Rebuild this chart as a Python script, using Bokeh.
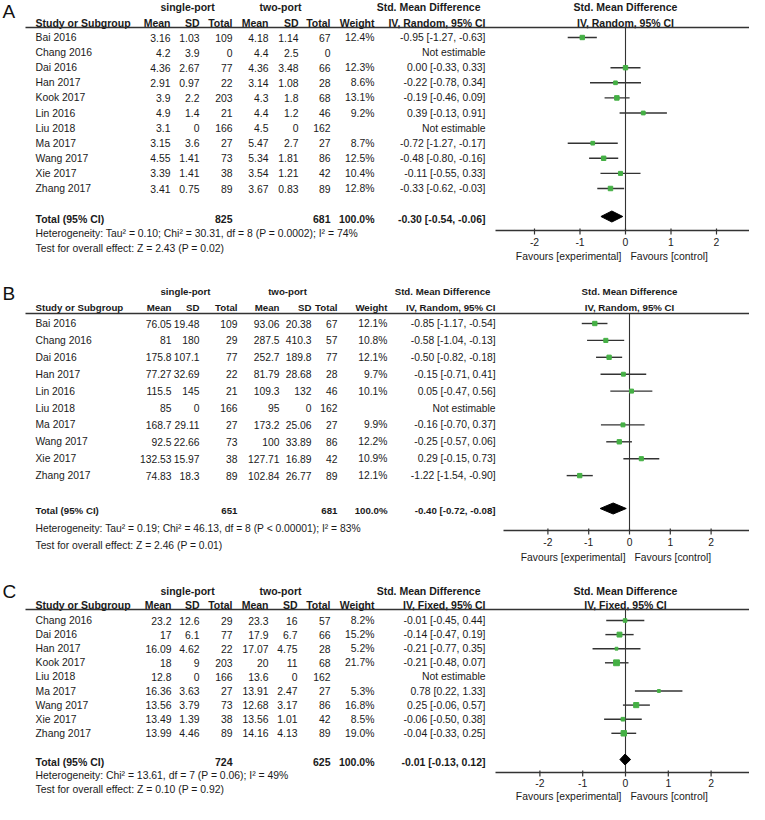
import math
from bokeh.plotting import figure
from bokeh.models import Range1d, ColumnDataSource
from bokeh.embed import file_html
from bokeh.resources import INLINE
from bokeh.core.properties import value

# ---------------- DATA ----------------
# Panel A
studies_a = ["Bai  2016", "Chang  2016", "Dai  2016", "Han  2017", "Kook  2017", "Lin 2016",
             "Liu  2018", "Ma  2017", "Wang  2017", "Xie  2017", "Zhang  2017"]
sp_mean_a = [3.16, 4.2, 4.36, 2.91, 3.9, 4.9, 3.1, 3.15, 4.55, 3.39, 3.41]
sp_sd_a = [1.03, 3.9, 2.67, 0.97, 2.2, 1.4, 0, 3.6, 1.41, 1.41, 0.75]
sp_n_a = [109, 0, 77, 22, 203, 21, 166, 27, 73, 38, 89]
tp_mean_a = [4.18, 4.4, 4.36, 3.14, 4.3, 4.4, 4.5, 5.47, 5.34, 3.54, 3.67]
tp_sd_a = [1.14, 2.5, 3.48, 1.08, 1.8, 1.2, 0, 2.7, 1.81, 1.21, 0.83]
tp_n_a = [67, 0, 66, 28, 68, 46, 162, 27, 86, 42, 89]
weight_a = [12.4, None, 12.3, 8.6, 13.1, 9.2, None, 8.7, 12.5, 10.4, 12.8]
smd_a = [-0.95, None, 0.00, -0.22, -0.19, 0.39, None, -0.72, -0.48, -0.11, -0.33]
lo_a = [-1.27, None, -0.33, -0.78, -0.46, -0.13, None, -1.27, -0.80, -0.55, -0.62]
hi_a = [-0.63, None, 0.33, 0.34, 0.09, 0.91, None, -0.17, -0.16, 0.33, -0.03]
total_n_a = [825, 681]
pooled_a = [-0.30, -0.54, -0.06]
method_a = "IV, Random, 95% CI"
het_a = "Heterogeneity: Tau\u00b2 = 0.10; Chi\u00b2 = 30.31, df = 8 (P = 0.0002); I\u00b2 = 74%"
test_a = "Test for overall effect: Z = 2.43 (P = 0.02)"

# Panel B
studies_b = ["Bai  2016", "Chang  2016", "Dai  2016", "Han  2017", "Lin 2016",
             "Liu  2018", "Ma  2017", "Wang  2017", "Xie  2017", "Zhang  2017"]
sp_mean_b = [76.05, 81, 175.8, 77.27, 115.5, 85, 168.7, 92.5, 132.53, 74.83]
sp_sd_b = [19.48, 180, 107.1, 32.69, 145, 0, 29.11, 22.66, 15.97, 18.3]
sp_n_b = [109, 29, 77, 22, 21, 166, 27, 73, 38, 89]
tp_mean_b = [93.06, 287.5, 252.7, 81.79, 109.3, 95, 173.2, 100, 127.71, 102.84]
tp_sd_b = [20.38, 410.3, 189.8, 28.68, 132, 0, 25.06, 33.89, 16.89, 26.77]
tp_n_b = [67, 57, 77, 28, 46, 162, 27, 86, 42, 89]
weight_b = [12.1, 10.8, 12.1, 9.7, 10.1, None, 9.9, 12.2, 10.9, 12.1]
smd_b = [-0.85, -0.58, -0.50, -0.15, 0.05, None, -0.16, -0.25, 0.29, -1.22]
lo_b = [-1.17, -1.04, -0.82, -0.71, -0.47, None, -0.70, -0.57, -0.15, -1.54]
hi_b = [-0.54, -0.13, -0.18, 0.41, 0.56, None, 0.37, 0.06, 0.73, -0.90]
total_n_b = [651, 681]
pooled_b = [-0.40, -0.72, -0.08]
method_b = "IV, Random, 95% CI"
het_b = "Heterogeneity: Tau\u00b2 = 0.19; Chi\u00b2 = 46.13, df = 8 (P < 0.00001); I\u00b2 = 83%"
test_b = "Test for overall effect: Z = 2.46 (P = 0.01)"

# Panel C
studies_c = ["Chang  2016", "Dai  2016", "Han  2017", "Kook  2017", "Liu  2018",
             "Ma  2017", "Wang  2017", "Xie  2017", "Zhang  2017"]
sp_mean_c = [23.2, 17, 16.09, 18, 12.8, 16.36, 13.56, 13.49, 13.99]
sp_sd_c = [12.6, 6.1, 4.62, 9, 0, 3.63, 3.79, 1.39, 4.46]
sp_n_c = [29, 77, 22, 203, 166, 27, 73, 38, 89]
tp_mean_c = [23.3, 17.9, 17.07, 20, 13.6, 13.91, 12.68, 13.56, 14.16]
tp_sd_c = [16, 6.7, 4.75, 11, 0, 2.47, 3.17, 1.01, 4.13]
tp_n_c = [57, 66, 28, 68, 162, 27, 86, 42, 89]
weight_c = [8.2, 15.2, 5.2, 21.7, None, 5.3, 16.8, 8.5, 19.0]
smd_c = [-0.01, -0.14, -0.21, -0.21, None, 0.78, 0.25, -0.06, -0.04]
lo_c = [-0.45, -0.47, -0.77, -0.48, None, 0.22, -0.06, -0.50, -0.33]
hi_c = [0.44, 0.19, 0.35, 0.07, None, 1.33, 0.57, 0.38, 0.25]
total_n_c = [724, 625]
pooled_c = [-0.01, -0.13, 0.12]
method_c = "IV, Fixed, 95% CI"
het_c = "Heterogeneity: Chi\u00b2 = 13.61, df = 7 (P = 0.06); I\u00b2 = 49%"
test_c = "Test for overall effect: Z = 0.10 (P = 0.92)"

group_labels = ["single-port", "two-port"]
col_labels = ["Mean", "SD", "Total", "Mean", "SD", "Total", "Weight"]
tick_values = [-2, -1, 0, 1, 2]
favours = ["Favours [experimental]", "Favours [control]"]

# ---------------- LAYOUT (pixel space) ----------------
FONT = "Liberation Sans"
TXT = "#1a1a1a"
LINE = "#333333"
GREEN = "#45b045"

W, H = 749, 804
p = figure(width=W, height=H, x_range=Range1d(0, W), y_range=Range1d(H, 0),
           output_backend="svg", toolbar_location=None,
           x_axis_type=None, y_axis_type=None, min_border=0)
p.outline_line_color = None
p.xgrid.visible = False
p.ygrid.visible = False
p.background_fill_color = "white"
p.border_fill_color = "white"


def txt(xs, ys, texts, align="left", bold=False, size="10.4px", xr="default", x_offset=0, color=TXT):
    src = ColumnDataSource(dict(x=list(xs), y=list(ys), t=list(texts)))
    p.text(x="x", y="y", text="t", source=src, text_align=align, text_baseline="middle",
           text_font=value(FONT), text_font_size=value(size),
           text_font_style="bold" if bold else "normal", text_color=color,
           x_offset=x_offset, x_range_name=xr)


def fmt(v):
    return f"{v:g}"


panels = [
    dict(name="fa", shift=1, letter="A", letter_y=12, hdr1=7, hdr2=23, rule=28, row0=38, dy=15.1,
         total=219, het=234, test=249, axis=231, ticklab=242, fav=257,
         cols=[170, 199, 232, 268, 298, 330, 374], res=485, grp=[187, 280],
         zero=625, unit=45.5, ax0=495, ax1=757, fs="10.4px", fsb="10.5px",
         studies=studies_a, spm=sp_mean_a, sps=sp_sd_a, spn=sp_n_a,
         tpm=tp_mean_a, tps=tp_sd_a, tpn=tp_n_a, w=weight_a, smd=smd_a, lo=lo_a, hi=hi_a,
         tn=total_n_a, pooled=pooled_a, method=method_a, het_t=het_a, test_t=test_a),
    dict(name="fb", shift=8, letter="B", letter_y=301, hdr1=299, hdr2=315, rule=321, row0=331, dy=16.9,
         total=518, het=536, test=553, axis=538, ticklab=549, fav=565,
         cols=[171, 199, 237, 279, 311, 337, 387], res=495, grp=[185, 287],
         zero=629, unit=40.8, ax0=503, ax1=757, fs="10.3px", fsb="9.7px",
         studies=studies_b, spm=sp_mean_b, sps=sp_sd_b, spn=sp_n_b,
         tpm=tp_mean_b, tps=tp_sd_b, tpn=tp_n_b, w=weight_b, smd=smd_b, lo=lo_b, hi=hi_b,
         tn=total_n_b, pooled=pooled_b, method=method_b, het_t=het_b, test_t=test_b),
    dict(name="fc", shift=17, letter="C", letter_y=608, hdr1=607, hdr2=621, rule=626, row0=637, dy=14.1,
         total=778, het=792, test=806, axis=789, ticklab=799, fav=813,
         cols=[171, 199, 232, 268, 297, 330, 374], res=485, grp=[187, 280],
         zero=625, unit=42.8, ax0=495, ax1=757, fs="10.4px", fsb="10.5px",
         studies=studies_c, spm=sp_mean_c, sps=sp_sd_c, spn=sp_n_c,
         tpm=tp_mean_c, tps=tp_sd_c, tpn=tp_n_c, w=weight_c, smd=smd_c, lo=lo_c, hi=hi_c,
         tn=total_n_c, pooled=pooled_c, method=method_c, het_t=het_c, test_t=test_c),
]

# apply per-panel vertical shift
for P in panels:
    s = P["shift"]
    for k in ["letter_y", "hdr1", "hdr2", "rule", "row0", "total", "het", "test", "axis", "ticklab", "fav"]:
        P[k] = P[k] - s

extra = {}
for P in panels:
    extra[P["name"]] = Range1d(start=(0 - P["zero"]) / P["unit"], end=(W - P["zero"]) / P["unit"])
p.extra_x_ranges = extra

for P in panels:
    xr = P["name"]
    fs, fsb = P["fs"], P["fsb"]
    n = len(P["studies"])
    ys = [P["row0"] + i * P["dy"] for i in range(n)]

    # panel letter
    txt([2], [P["letter_y"]], [P["letter"]], size="19px", color="#111111")

    # group headers
    txt(P["grp"], [P["hdr1"]] * 2, group_labels, align="center", bold=True, size=fsb)
    txt([P["res"] - 5], [P["hdr1"]], ["Std. Mean Difference"], align="right", bold=True, size=fsb)
    txt([P["res"]], [P["hdr2"]], [P["method"]], align="right", bold=True, size=fsb)
    txt([0], [P["hdr1"]], ["Std. Mean Difference"], align="center", bold=True, size=fsb, xr=xr)
    txt([0], [P["hdr2"]], [P["method"]], align="center", bold=True, size=fsb, xr=xr)
    # column headers
    txt([35], [P["hdr2"]], ["Study or Subgroup"], bold=True, size=fsb)
    txt(P["cols"], [P["hdr2"]] * 7, col_labels, align="right", bold=True, size=fsb)
    # header rule
    p.segment(x0=[25], y0=[P["rule"]], x1=[W], y1=[P["rule"]], line_color=LINE, line_width=1.6)

    # study rows
    txt([35] * n, ys, P["studies"], size=fs)
    columns = [
        [fmt(v) for v in P["spm"]], [fmt(v) for v in P["sps"]], [fmt(v) for v in P["spn"]],
        [fmt(v) for v in P["tpm"]], [fmt(v) for v in P["tps"]], [fmt(v) for v in P["tpn"]],
        ["" if v is None else f"{v:.1f}%" for v in P["w"]],
    ]
    for cx, vals in zip(P["cols"], columns):
        txt([cx] * n, ys, vals, align="right", size=fs)
    res_txt = ["Not estimable" if m is None else f"{m:.2f} [{l:.2f}, {h:.2f}]"
               for m, l, h in zip(P["smd"], P["lo"], P["hi"])]
    txt([P["res"]] * n, ys, res_txt, align="right", size=fs)

    # total row
    txt([35], [P["total"]], ["Total (95% CI)"], bold=True, size=fsb)
    txt([P["cols"][2], P["cols"][5], P["cols"][6]], [P["total"]] * 3,
        [str(P["tn"][0]), str(P["tn"][1]), "100.0%"], align="right", bold=True, size=fsb)
    pm, pl, ph = P["pooled"]
    txt([P["res"]], [P["total"]], [f"{pm:.2f} [{pl:.2f}, {ph:.2f}]"], align="right", bold=True, size=fsb)
    txt([35], [P["het"]], [P["het_t"]], size=fs)
    txt([35], [P["test"]], [P["test_t"]], size=fs)

    # forest: zero line
    p.segment(x0=[0], y0=[P["rule"]], x1=[0], y1=[P["axis"]], line_color=LINE, line_width=1.1, x_range_name=xr)
    # CIs and squares
    idx = [i for i in range(n) if P["smd"][i] is not None]
    src = ColumnDataSource(dict(
        m=[P["smd"][i] for i in idx], lo=[P["lo"][i] for i in idx], hi=[P["hi"][i] for i in idx],
        y=[ys[i] for i in idx], s=[1.25 * math.sqrt(P["w"][i]) for i in idx]))
    p.segment(x0="lo", y0="y", x1="hi", y1="y", source=src, line_color=LINE, line_width=1.4, x_range_name=xr)
    p.scatter(x="m", y="y", size="s", marker="square", source=src, fill_color=GREEN,
              line_color=GREEN, x_range_name=xr)
    # pooled diamond
    yc = P["total"] - 2
    p.patch(x=[pl, pm, ph, pm], y=[yc, yc - 5.5, yc, yc + 5.5], fill_color="black",
            line_color="black", x_range_name=xr)

    # axis
    p.segment(x0=[P["ax0"]], y0=[P["axis"]], x1=[P["ax1"]], y1=[P["axis"]], line_color=LINE, line_width=1.3)
    p.segment(x0=tick_values, y0=[P["axis"] - 2] * 5, x1=tick_values, y1=[P["axis"] + 4] * 5,
              line_color=LINE, line_width=1.2, x_range_name=xr)
    txt(tick_values, [P["ticklab"]] * 5, [str(t) for t in tick_values], align="center", size=fs, xr=xr)
    txt([0], [P["fav"]], [favours[0]], align="right", size=fs, xr=xr, x_offset=-4)
    txt([0], [P["fav"]], [favours[1]], align="left", size=fs, xr=xr, x_offset=5)

open("out.html", "w").write(file_html(p, INLINE))
